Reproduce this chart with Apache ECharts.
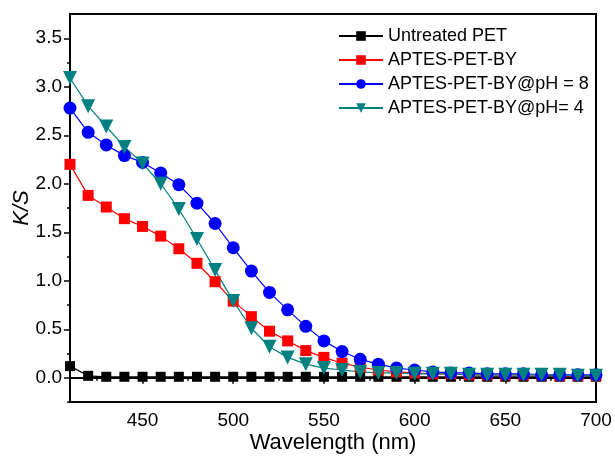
<!DOCTYPE html>
<html lang="en">
<head>
  <meta charset="UTF-8">
  <title>K/S vs Wavelength</title>
  <script src="https://cdn.jsdelivr.net/npm/echarts@6/dist/echarts.min.js"></script>
</head>
<body style="margin:0">
  <div id="chart" style="width: 615px; height: 459px;"></div>
  <script>
    // wavelengths, 410..700 nm every 10
    var wavelengths = [410, 420, 430, 440, 450, 460, 470, 480, 490, 500,
      510, 520, 530, 540, 550, 560, 570, 580, 590, 600,
      610, 620, 630, 640, 650, 660, 670, 680, 690, 700];

    var untreated = [0.12, 0.02, 0.01, 0.01, 0.01, 0.01, 0.01, 0.01, 0.01, 0.01,
      0.01, 0.01, 0.01, 0.01, 0.01, 0.01, 0.01, 0.01, 0.01, 0.01,
      0.01, 0.01, 0.01, 0.01, 0.01, 0.01, 0.01, 0.01, 0.01, 0.01];
    var aptes = [2.20, 1.88, 1.76, 1.64, 1.56, 1.46, 1.33, 1.18, 0.99, 0.79,
      0.63, 0.48, 0.38, 0.28, 0.21, 0.15, 0.11, 0.08, 0.06, 0.05,
      0.04, 0.04, 0.03, 0.03, 0.03, 0.03, 0.03, 0.02, 0.02, 0.02];
    var aptesPH8 = [2.78, 2.53, 2.40, 2.29, 2.22, 2.11, 1.99, 1.80, 1.59, 1.34,
      1.10, 0.88, 0.70, 0.53, 0.38, 0.27, 0.19, 0.14, 0.10, 0.08,
      0.06, 0.05, 0.05, 0.04, 0.04, 0.04, 0.03, 0.03, 0.03, 0.03];
    var aptesPH4 = [3.09, 2.80, 2.59, 2.38, 2.21, 2.00, 1.74, 1.43, 1.11, 0.79,
      0.51, 0.32, 0.21, 0.14, 0.10, 0.08, 0.06, 0.05, 0.05, 0.04,
      0.04, 0.04, 0.03, 0.03, 0.03, 0.03, 0.03, 0.03, 0.02, 0.02];

    var xLabels = [450, 500, 550, 600, 650, 700];
    var xMinor = [425, 475, 525, 575, 625, 675];
    var yLabels = [0, 0.5, 1, 1.5, 2, 2.5, 3, 3.5];
    var yMinor = [-0.25, 0.25, 0.75, 1.25, 1.75, 2.25, 2.75, 3.25];

    function pairs(ys) {
      return wavelengths.map(function (x, i) { return [x, ys[i]]; });
    }

    var font = 'Liberation Sans, Arial, sans-serif';
    var chart = echarts.init(document.getElementById('chart'));

    function mkSeries(name, data, color, symbol, size, rotate) {
      return {
        name: name,
        type: 'line',
        data: pairs(data),
        symbol: symbol,
        symbolSize: size,
        symbolRotate: rotate || 0,
        lineStyle: { color: color, width: 1.2 },
        itemStyle: { color: color }
      };
    }

    var axisBase = {
      axisLine: { show: true, lineStyle: { color: '#000', width: 2 } },
      splitLine: { show: false }
    };

    chart.setOption({
      animation: false,
      grid: {
        left: 70, right: 19, top: 14, bottom: 57,
        outerBoundsMode: 'none',
        containLabel: false,
        show: true, borderColor: '#000', borderWidth: 2
      },
      legend: {
        orient: 'vertical',
        left: 333,
        top: 22,
        itemWidth: 44,
        itemHeight: 12,
        itemGap: 6,
        textStyle: { fontFamily: font, fontSize: 18, color: '#000' },
        data: ['Untreated PET', 'APTES-PET-BY', 'APTES-PET-BY@pH = 8', 'APTES-PET-BY@pH= 4']
      },
      xAxis: [
        Object.assign({}, axisBase, {
          type: 'value', min: 410, max: 700,
          name: 'Wavelength (nm)', nameLocation: 'middle', nameGap: 30,
          nameMoveOverlap: false,
          nameTextStyle: { fontFamily: font, fontSize: 22, color: '#000', verticalAlign: 'top' },
          axisTick: { show: true, inside: false, length: 6, customValues: xLabels, lineStyle: { color: '#000', width: 1.5 } },
          axisLabel: { customValues: xLabels, fontFamily: font, fontSize: 19, color: '#000', margin: 9 }
        }),
        Object.assign({}, axisBase, {
          type: 'value', min: 410, max: 700, position: 'bottom',
          axisTick: { show: true, length: 3, customValues: xMinor, lineStyle: { color: '#000', width: 1.5 } },
          axisLabel: { show: false }
        })
      ],
      yAxis: [
        Object.assign({}, axisBase, {
          type: 'value', min: -0.25, max: 3.75,
          name: 'K/S', nameLocation: 'middle', nameGap: 37,
          nameMoveOverlap: false,
          nameTextStyle: { fontFamily: font, fontSize: 22, fontStyle: 'italic', color: '#000' },
          axisTick: { show: true, length: 6, customValues: yLabels, lineStyle: { color: '#000', width: 1.5 } },
          axisLabel: {
            customValues: yLabels, fontFamily: font, fontSize: 19, color: '#000', margin: 8,
            formatter: function (v) { return v.toFixed(1); }
          }
        }),
        Object.assign({}, axisBase, {
          type: 'value', min: -0.25, max: 3.75, position: 'left',
          axisTick: { show: true, length: 3, customValues: yMinor, lineStyle: { color: '#000', width: 1.5 } },
          axisLabel: { show: false }
        })
      ],
      series: [
        mkSeries('Untreated PET', untreated, '#000000', 'rect', 10),
        mkSeries('APTES-PET-BY', aptes, '#ff0000', 'rect', 11),
        mkSeries('APTES-PET-BY@pH = 8', aptesPH8, '#0000ff', 'circle', 13),
        mkSeries('APTES-PET-BY@pH= 4', aptesPH4, '#008080', 'triangle', 14, 180)
      ]
    });
  </script>
</body>
</html>
